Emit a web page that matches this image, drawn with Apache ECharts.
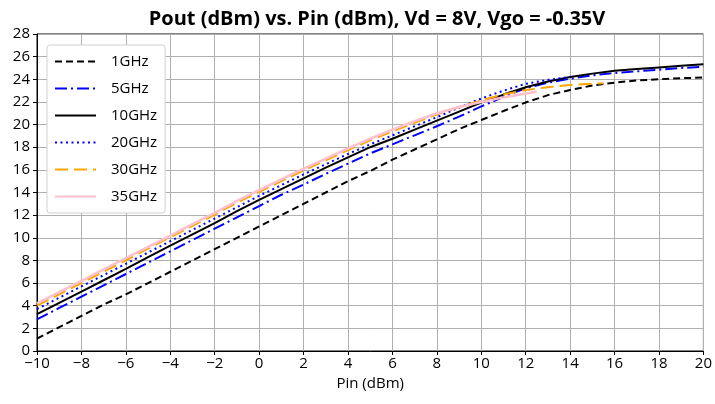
<!DOCTYPE html>
<html>
<head>
<meta charset="utf-8">
<script src="https://cdn.jsdelivr.net/npm/echarts@6/dist/echarts.min.js"></script>
<style>
  html, body { margin: 0; padding: 0; background: #ffffff; }
  #chart { width: 715px; height: 404px; }
</style>
</head>
<body>
<div id="chart"></div>
<script>
const TITLE = "Pout (dBm) vs. Pin (dBm), Vd = 8V, Vgo = -0.35V";
const X_NAME = "Pin (dBm)";

// Pin sweep in dBm
const PIN = [-10, -9, -8, -7, -6, -5, -4, -3, -2, -1, 0, 1, 2, 3, 4, 5, 6, 7, 8, 9, 10,
  11, 12, 13, 14, 15, 16, 17, 18, 19, 20];
const PIN_20G = [-10, -9, -8, -7, -6, -5, -4, -3, -2, -1, 0, 1, 2, 3, 4, 5, 6, 7, 8, 9, 10,
  11, 12, 13, 14];
const PIN_30G = [-10, -9, -8, -7, -6, -5, -4, -3, -2, -1, 0, 1, 2, 3, 4, 5, 6, 7, 8, 9, 10,
  11, 12, 13, 14, 15, 15.5];
const PIN_35G = [-10, -9, -8, -7, -6, -5, -4, -3, -2, -1, 0, 1, 2, 3, 4, 5, 6, 7, 8, 9, 10,
  11, 12, 12.5];

// Pout in dBm
const POUT_1G = [1.1, 2.1, 3.1, 4.1, 5.0, 6.0, 7.0, 8.0, 9.0, 10.0, 11.0, 12.0, 13.0, 14.0, 15.0,
  15.9, 16.9, 17.8, 18.7, 19.6, 20.4, 21.2, 21.95, 22.6, 23.05, 23.45, 23.7, 23.9, 24.0, 24.1, 24.15];
const POUT_5G = [2.8, 3.8, 4.8, 5.8, 6.8, 7.8, 8.8, 9.8, 10.8, 11.8, 12.8, 13.8, 14.7, 15.65, 16.55,
  17.45, 18.25, 19.05, 19.85, 20.7, 21.6, 22.45, 23.2, 23.7, 24.05, 24.35, 24.55, 24.7, 24.85, 25.0, 25.1];
const POUT_10G = [3.25, 4.25, 5.25, 6.25, 7.25, 8.3, 9.3, 10.3, 11.3, 12.35, 13.35, 14.3, 15.25, 16.2, 17.1,
  18.0, 18.75, 19.55, 20.35, 21.15, 21.95, 22.65, 23.3, 23.8, 24.2, 24.5, 24.75, 24.9, 25.05, 25.2, 25.32];
const POUT_20G = [3.7, 4.7, 5.7, 6.7, 7.7, 8.7, 9.7, 10.7, 11.7, 12.7, 13.7, 14.65, 15.6, 16.5, 17.4,
  18.25, 19.05, 19.85, 20.65, 21.5, 22.3, 23.0, 23.6, 23.95, 24.2];
const POUT_30G = [4.0, 5.0, 6.0, 7.0, 8.0, 9.05, 10.05, 11.05, 12.05, 13.1, 14.05, 15.0, 15.95, 16.85, 17.75,
  18.6, 19.4, 20.15, 20.9, 21.55, 22.15, 22.65, 23.05, 23.3, 23.5, 23.6, 23.65];
const POUT_35G = [4.2, 5.2, 6.2, 7.2, 8.2, 9.2, 10.2, 11.2, 12.2, 13.25, 14.2, 15.15, 16.1, 17.0, 17.9,
  18.75, 19.55, 20.3, 21.0, 21.55, 22.0, 22.4, 22.75, 22.9];

const FONT = "'Open Sans', sans-serif";

function pairs(xs, ys) {
  return xs.map((x, i) => [x, ys[i]]);
}

function tickLabel(value) {
  return value < 0 ? "\u2212" + Math.abs(value) : String(value);
}

function lineSeries(name, xs, ys, color, width, dash) {
  return {
    name,
    type: "line",
    data: pairs(xs, ys),
    showSymbol: false,
    symbol: "none",
    silent: true,
    lineStyle: { color, width, type: dash },
    itemStyle: { color },
  };
}

const chart = echarts.init(document.getElementById("chart"), null, { renderer: "canvas" });

chart.setOption({
  backgroundColor: "#ffffff",
  animation: false,
  textStyle: { fontFamily: FONT },
  title: {
    text: TITLE,
    left: 372,
    textAlign: "center",
    top: 4,
    textStyle: { fontFamily: FONT, fontSize: 20, fontWeight: "bold", color: "#000000" },
  },
  grid: {
    left: 37,
    right: 8,
    top: 34,
    bottom: 53,
    show: true,
    borderColor: "#000000",
    borderWidth: 1,
    backgroundColor: "transparent",
  },
  legend: {
    orient: "vertical",
    left: 47,
    top: 45,
    padding: [9, 8, 9, 7],
    itemWidth: 41,
    itemHeight: 14,
    itemGap: 12,
    backgroundColor: "#ffffff",
    borderColor: "#d0d0d0",
    borderWidth: 1,
    borderRadius: 3,
    itemStyle: { opacity: 0 },
    textStyle: { fontFamily: FONT, fontSize: 15, color: "#000000", padding: [0, 0, 0, 10] },
  },
  xAxis: {
    type: "value",
    min: -10,
    max: 20,
    interval: 2,
    name: X_NAME,
    nameLocation: "middle",
    nameGap: 23,
    nameTextStyle: { fontFamily: FONT, fontSize: 15, color: "#000000" },
    axisLine: { onZero: false, lineStyle: { color: "#000000", width: 1 } },
    axisTick: { length: 4, lineStyle: { color: "#000000" } },
    axisLabel: { fontFamily: FONT, fontSize: 15, color: "#000000", margin: 5, formatter: tickLabel },
    splitLine: { show: true, lineStyle: { color: "#b0b0b0", width: 1 } },
  },
  yAxis: {
    type: "value",
    min: 0,
    max: 28,
    interval: 2,
    axisLine: { show: true, onZero: false, lineStyle: { color: "#000000", width: 1 } },
    axisTick: { show: true, length: 4, lineStyle: { color: "#000000" } },
    axisLabel: { fontFamily: FONT, fontSize: 15, color: "#000000", margin: 7 },
    splitLine: { show: true, lineStyle: { color: "#b0b0b0", width: 1 } },
  },
  series: [
    lineSeries("1GHz", PIN, POUT_1G, "#000000", 2, [7, 4]),
    lineSeries("5GHz", PIN, POUT_5G, "#0000ff", 2, [12, 4, 2, 4]),
    lineSeries("10GHz", PIN, POUT_10G, "#000000", 2, "solid"),
    lineSeries("20GHz", PIN_20G, POUT_20G, "#0000ff", 2, [2, 3.5]),
    lineSeries("30GHz", PIN_30G, POUT_30G, "#ffa500", 2, [13, 6]),
    lineSeries("35GHz", PIN_35G, POUT_35G, "#ffc0cb", 2.5, "solid"),
  ],
});
</script>
</body>
</html>
